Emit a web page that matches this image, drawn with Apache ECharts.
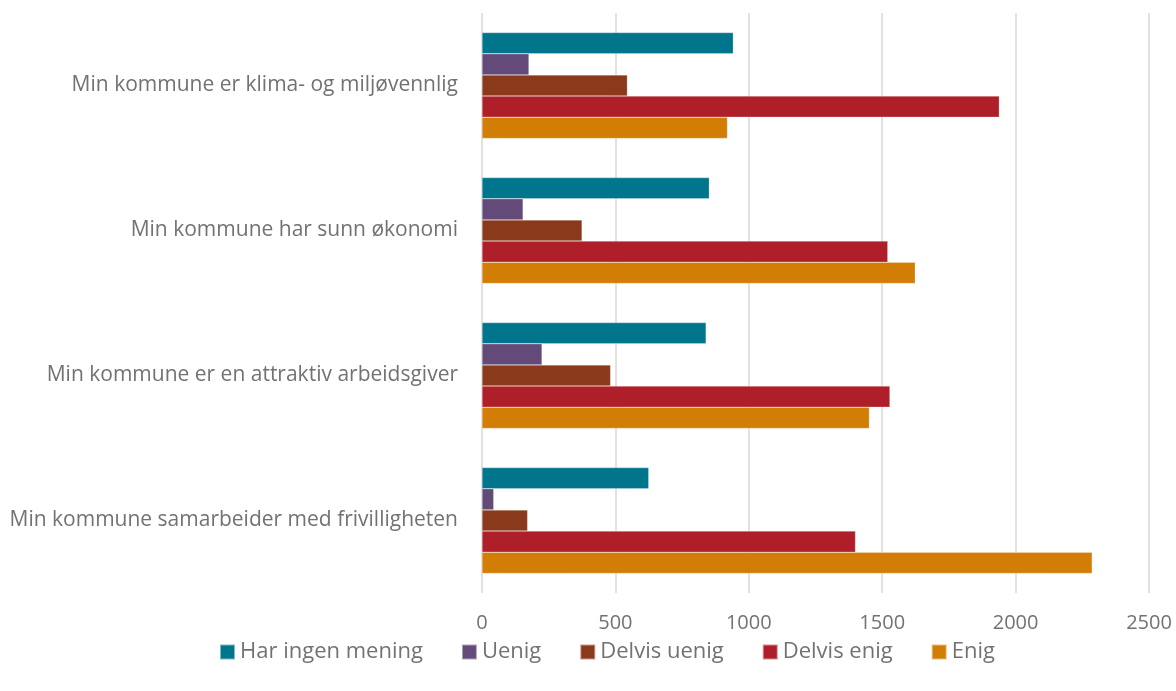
<!DOCTYPE html>
<html>
<head>
<meta charset="utf-8">
<script src="https://cdn.jsdelivr.net/npm/echarts@6/dist/echarts.min.js"></script>
<style>
  html, body { margin: 0; padding: 0; background: #fff; }
  #chart { width: 1176px; height: 691px; }
</style>
</head>
<body>
<div id="chart"></div>
<script>
// categories, top to bottom
const categories = [
  'Min kommune er klima- og miljøvennlig',
  'Min kommune har sunn økonomi',
  'Min kommune er en attraktiv arbeidsgiver',
  'Min kommune samarbeider med frivilligheten',
]

const seriesNames = ['Har ingen mening', 'Uenig', 'Delvis uenig', 'Delvis enig', 'Enig']
const colors = ['#00758c', '#634a78', '#8b391b', '#af1f29', '#d27d06']

const harIngenMening = [942, 852, 840, 625]
const uenig = [176, 154, 225, 44]
const delvisUenig = [545, 375, 482, 171]
const delvisEnig = [1939, 1521, 1529, 1400]
const enig = [920, 1624, 1452, 2287]

const seriesData = [harIngenMening, uenig, delvisUenig, delvisEnig, enig]

const textColor = '#767171'
const font = 'Open Sans'

const chart = echarts.init(document.getElementById('chart'))

const option = {
  backgroundColor: '#ffffff',
  animation: false,
  grid: {
    left: 482,
    right: 27,
    top: 13,
    bottom: 98,
  },
  legend: {
    data: seriesNames,
    bottom: 23,
    left: 214,
    itemWidth: 15,
    itemHeight: 15,
    itemGap: 38,
    icon: 'rect',
    textStyle: {
      color: textColor,
      fontSize: 22,
      fontFamily: font,
    },
  },
  xAxis: {
    type: 'value',
    min: 0,
    max: 2500,
    interval: 500,
    axisLine: { show: false },
    axisTick: { show: false },
    axisLabel: {
      color: textColor,
      fontSize: 20,
      fontFamily: font,
      margin: 20,
      formatter: (v) => String(v),
    },
    splitLine: {
      lineStyle: { color: '#d9d9d9', width: 1.5 },
    },
  },
  yAxis: {
    type: 'category',
    data: categories,
    inverse: true,
    axisLine: { show: false },
    axisTick: { show: false },
    axisLabel: {
      color: textColor,
      fontSize: 21,
      fontFamily: font,
      margin: 24,
    },
  },
  series: seriesNames.map((name, i) => ({
    name: name,
    type: 'bar',
    data: seriesData[i],
    barGap: '0%',
    barCategoryGap: '27%',
    itemStyle: {
      color: colors[i],
      borderColor: 'rgba(255,255,255,0.5)',
      borderWidth: 0.5,
    },
  })),
}

chart.setOption(option)
</script>
</body>
</html>
